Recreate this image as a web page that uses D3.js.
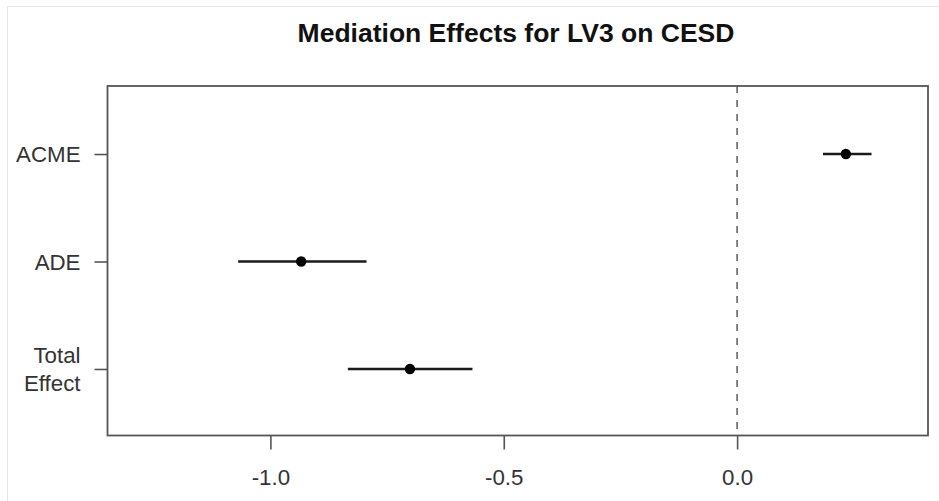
<!DOCTYPE html>
<html>
<head>
<meta charset="utf-8">
<script src="https://cdn.jsdelivr.net/npm/d3@7"></script>
<style>
  html, body { margin: 0; padding: 0; background: #fff; }
  svg { display: block; font-family: "Liberation Sans", Arial, sans-serif; }
</style>
</head>
<body>
<svg id="chart" width="939" height="501"></svg>
<script>
// ---- data ----
const effects = ["ACME", "ADE", "Total Effect"];
const estimates = [0.233, -0.934, -0.701];
const ciLower = [0.184, -1.069, -0.834];
const ciUpper = [0.288, -0.794, -0.567];
const xTicks = [-1.0, -0.5, 0.0];
const xTickLabels = ["-1.0", "-0.5", "0.0"];
const title = "Mediation Effects for LV3 on CESD";

const svg = d3.select("#chart");
const W = 939, H = 501;
const box = { left: 107.5, right: 928, top: 86, bottom: 435.5 };

// faint frame of the original image
svg.append("line").attr("x1", 7.5).attr("x2", 7.5).attr("y1", 6).attr("y2", H)
  .attr("stroke", "#e6e6e6").attr("stroke-width", 1);
svg.append("line").attr("x1", 7).attr("x2", W).attr("y1", 6.5).attr("y2", 6.5)
  .attr("stroke", "#e6e6e6").attr("stroke-width", 1);

const x = d3.scaleLinear().domain([-1.349, 0.409]).range([box.left, box.right]);
// y positions: ACME at 3, ADE at 2, Total at 1
const yVal = effects.map((d, i) => effects.length - i);
const y = d3.scaleLinear().domain([0.381, 3.633]).range([box.bottom, box.top]);

// title
svg.append("text")
  .attr("x", 516).attr("y", 41.5)
  .attr("text-anchor", "middle")
  .attr("font-weight", "bold")
  .attr("font-size", 26.5)
  .attr("fill", "#111")
  .text(title);

// zero reference line
svg.append("line")
  .attr("x1", x(0)).attr("x2", x(0))
  .attr("y1", box.top).attr("y2", box.bottom)
  .attr("stroke", "#666").attr("stroke-width", 1.6)
  .attr("stroke-dasharray", "7,7");

// x axis
const xAxis = d3.axisBottom(x).tickValues(xTicks)
  .tickFormat((d, i) => xTickLabels[i]).tickSize(14).tickPadding(20);
const gx = svg.append("g").attr("transform", `translate(0,${box.bottom})`).call(xAxis);
gx.select(".domain").remove();
gx.selectAll(".tick line").attr("stroke", "#555").attr("stroke-width", 1.6);
gx.selectAll(".tick text").attr("font-size", 22.3).attr("fill", "#333")
  .attr("font-family", "'Liberation Sans', Arial, sans-serif");

// y axis
const yAxis = d3.axisLeft(y).tickValues(yVal).tickFormat("").tickSize(13);
const gy = svg.append("g").attr("transform", `translate(${box.left},0)`).call(yAxis);
gy.select(".domain").remove();
gy.selectAll(".tick line").attr("stroke", "#555").attr("stroke-width", 1.6);

// y labels (multi-line support)
effects.forEach((lab, i) => {
  const parts = lab === "Total Effect" ? ["Total", "Effect"] : [lab];
  const cy = y(yVal[i]);
  const lh = 27.5;
  const t = svg.append("text")
    .attr("text-anchor", "end")
    .attr("font-size", 22.3)
    .attr("fill", "#333");
  parts.forEach((p, k) => {
    t.append("tspan")
      .attr("x", 80.5)
      .attr("y", cy + 8 + (k - (parts.length - 1) / 2) * lh)
      .text(p);
  });
});

// plot box
svg.append("rect")
  .attr("x", box.left).attr("y", box.top)
  .attr("width", box.right - box.left).attr("height", box.bottom - box.top)
  .attr("fill", "none").attr("stroke", "#555").attr("stroke-width", 1.8);

// CI lines
svg.append("g").selectAll("line").data(effects).join("line")
  .attr("x1", (d, i) => x(ciLower[i]))
  .attr("x2", (d, i) => x(ciUpper[i]))
  .attr("y1", (d, i) => y(yVal[i]))
  .attr("y2", (d, i) => y(yVal[i]))
  .attr("stroke", "#1a1a1a").attr("stroke-width", 2.6);

// points
svg.append("g").selectAll("circle").data(effects).join("circle")
  .attr("cx", (d, i) => x(estimates[i]))
  .attr("cy", (d, i) => y(yVal[i]))
  .attr("r", 5.2)
  .attr("fill", "#000");
</script>
</body>
</html>
